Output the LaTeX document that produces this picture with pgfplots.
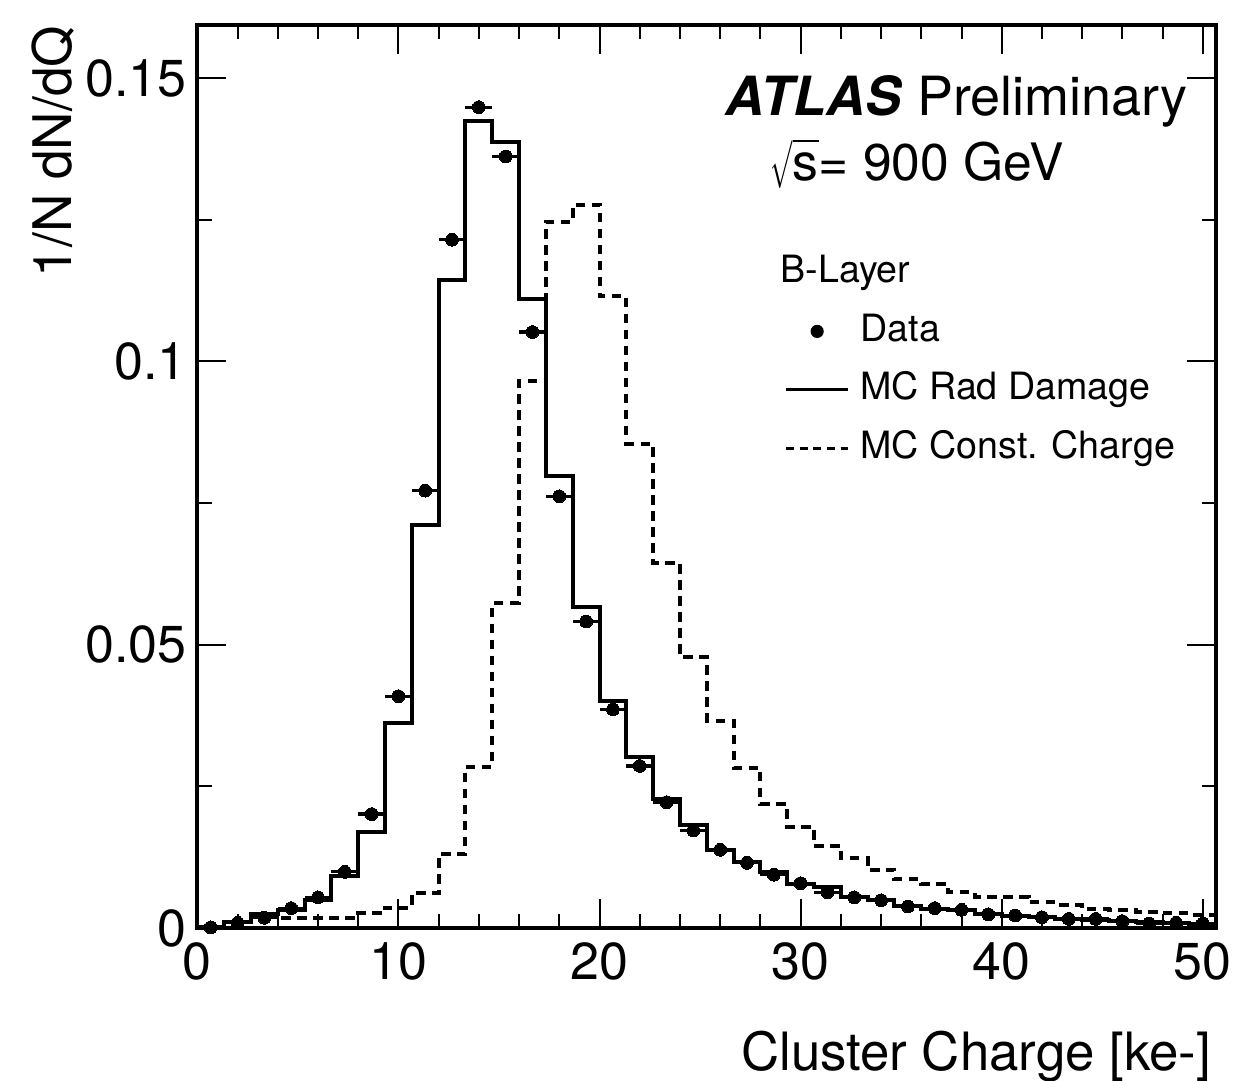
\documentclass[border=0pt]{standalone}
\usepackage{fontspec}
\setmainfont{TeX Gyre Heros}
\usepackage{pgfplots}
\pgfplotsset{compat=1.18}
\pgfplotsset{
  legline/.style={legend image code/.code={\draw[##1] (0pt,0pt) -- (15.5pt,0pt);}},
  legmark/.style={legend image code/.code={\draw[mark repeat=2, mark phase=2, ##1] plot coordinates {(0pt,0pt) (7.75pt,0pt) (15.5pt,0pt)};}},
}
\newsavebox\surdbox
\newsavebox\radbox
\newcommand{\rsqrt}[1]{%
  \sbox\radbox{#1}%
  \sbox\surdbox{$\sqrt{\vphantom{\usebox\radbox}}$}%
  \scalebox{0.55}[1]{\usebox\surdbox}%
  \rlap{\rule[\dimexpr\ht\surdbox-2\fontdimen8\textfont3\relax]{\wd\radbox}{\fontdimen8\textfont3}}%
  \usebox\radbox}
\begin{document}
\begin{tikzpicture}
\path[use as bounding box] (-49.33pt,-38.25pt) rectangle (259.43pt,232pt);
\begin{axis}[
  at={(0,0)}, anchor=south west,
  scale only axis, width=254.75pt, height=225.75pt,
  xmin=0, xmax=50.6667, ymin=0, ymax=0.1594,
  clip=false,
  axis line style={line width=1pt, black},
  tick align=inside, tick pos=both,
  xtick={0,10,20,30,40,50}, xticklabels={0,10,20,30,40,50}, minor x tick num=4,
  ytick={0,0.05,0.1,0.15}, yticklabels={0,0.05,0.1,0.15}, minor y tick num=1,
  major tick length=7.2pt, minor tick length=3.6pt,
  every tick/.style={black, line width=0.5pt},
  tick label style={font=\fontsize{13}{15}\selectfont, inner sep=0pt},
  xticklabel style={yshift=-3.5pt},
  yticklabel style={xshift=-2.5pt},
  xlabel={Cluster Charge [ke-]},
  xlabel style={at={(axis description cs:0.9958,-0.1573)}, anchor=base east, inner sep=0pt, font=\fontsize{13.2}{15}\selectfont},
  ylabel={1/N dN/dQ},
  ylabel style={at={(axis description cs:-0.123,1)}, anchor=base east, inner sep=0pt, font=\fontsize{13.3}{15}\selectfont},
  legend style={at={(axis description cs:0.5765,0.7453)}, anchor=north west, draw=none, fill=none, inner sep=0pt, outer sep=0pt,
    row sep=5.6pt, column sep=2.75pt, font=\fontsize{9.4}{11}\selectfont,
    nodes={inner sep=0pt, text height=7pt, text depth=2pt}},
  legend cell align=left,
]
% MC Const. Charge (dashed)
\addplot[const plot, black, line width=1pt, dash pattern=on 2.4pt off 1.6pt, forget plot] coordinates {
(0,0.0002)(1.3333,0.0010)(2.6667,0.0020)(4,0.0017)(5.3333,0.0017)(6.6667,0.0017)(8,0.0026)(9.3333,0.0036)(10.6667,0.0062)(12,0.0130)(13.3333,0.0285)(14.6667,0.0574)(16,0.0966)(17.3333,0.1247)(18.6667,0.1277)(20,0.1115)(21.3333,0.0855)(22.6667,0.0644)(24,0.0478)(25.3333,0.0366)(26.6667,0.0283)(28,0.0219)(29.3333,0.0178)(30.6667,0.0145)(32,0.0123)(33.3333,0.0102)(34.6667,0.0086)(36,0.0078)(37.3333,0.0063)(38.6667,0.0055)(40,0.0055)(41.3333,0.0045)(42.6667,0.0041)(44,0.0033)(45.3333,0.0032)(46.6667,0.0028)(48,0.0026)(49.3333,0.0023)(50.6667,0.0023)
};
% MC Rad Damage (solid)
\addplot[const plot, black, line width=1pt, forget plot] coordinates {
(0,0.0002)(1.3333,0.0011)(2.6667,0.0024)(4,0.0032)(5.3333,0.0050)(6.6667,0.0092)(8,0.0170)(9.3333,0.0361)(10.6667,0.0711)(12,0.1144)(13.3333,0.1424)(14.6667,0.1387)(16,0.1111)(17.3333,0.0797)(18.6667,0.0567)(20,0.0401)(21.3333,0.0301)(22.6667,0.0227)(24,0.0181)(25.3333,0.0138)(26.6667,0.0116)(28,0.0098)(29.3333,0.0078)(30.6667,0.0073)(32,0.0055)(33.3333,0.0049)(34.6667,0.0038)(36,0.0033)(37.3333,0.0032)(38.6667,0.0024)(40,0.0021)(41.3333,0.0019)(42.6667,0.0016)(44,0.0014)(45.3333,0.0012)(46.6667,0.0010)(48,0.0008)(49.3333,0.0007)(50.6667,0.0007)
};
% Data
\addplot[only marks, mark=*, black, mark size=1.6pt, mark options={fill=black, draw=black, line width=0pt}, forget plot,
  error bars/.cd, x dir=both, x explicit, error mark=none, error bar style={line width=0.8pt, black}] coordinates {
(0.6667,0.0001) +- (0.6667,0)
(2,0.0009) +- (0.6667,0)
(3.3333,0.0018) +- (0.6667,0)
(4.6667,0.0035) +- (0.6667,0)
(6,0.0054) +- (0.6667,0)
(7.3333,0.0099) +- (0.6667,0)
(8.6667,0.0201) +- (0.6667,0)
(10,0.0409) +- (0.6667,0)
(11.3333,0.0772) +- (0.6667,0)
(12.6667,0.1215) +- (0.6667,0)
(14,0.1449) +- (0.6667,0)
(15.3333,0.1362) +- (0.6667,0)
(16.6667,0.1052) +- (0.6667,0)
(18,0.0762) +- (0.6667,0)
(19.3333,0.0541) +- (0.6667,0)
(20.6667,0.0386) +- (0.6667,0)
(22,0.0286) +- (0.6667,0)
(23.3333,0.0222) +- (0.6667,0)
(24.6667,0.0172) +- (0.6667,0)
(26,0.0138) +- (0.6667,0)
(27.3333,0.0115) +- (0.6667,0)
(28.6667,0.0094) +- (0.6667,0)
(30,0.0079) +- (0.6667,0)
(31.3333,0.0063) +- (0.6667,0)
(32.6667,0.0054) +- (0.6667,0)
(34,0.0049) +- (0.6667,0)
(35.3333,0.0038) +- (0.6667,0)
(36.6667,0.0035) +- (0.6667,0)
(38,0.0032) +- (0.6667,0)
(39.3333,0.0024) +- (0.6667,0)
(40.6667,0.0022) +- (0.6667,0)
(42,0.0019) +- (0.6667,0)
(43.3333,0.0016) +- (0.6667,0)
(44.6667,0.0016) +- (0.6667,0)
(46,0.0012) +- (0.6667,0)
(47.3333,0.0008) +- (0.6667,0)
(48.6667,0.0009) +- (0.6667,0)
(50,0.0008) +- (0.6667,0)
};
\addlegendimage{empty legend}
\addlegendentry{\hspace{-20pt}B-Layer}
\addlegendimage{black, only marks, mark=*, mark size=1.45pt, legmark}
\addlegendentry{Data}
\addlegendimage{black, line width=0.7pt, legline}
\addlegendentry{MC Rad Damage}
\addlegendimage{black, line width=0.7pt, dash pattern=on 2pt off 1.4pt, legline}
\addlegendentry{MC Const. Charge}
\node[anchor=base west, inner sep=0pt, font=\fontsize{13.5}{15}\selectfont] at (axis description cs:0.518,0.9003) {\textbf{\textit{ATLAS}} Preliminary};
\node[anchor=base west, inner sep=0pt, font=\fontsize{12.9}{15}\selectfont] at (axis description cs:0.562,0.8283) {\rsqrt{s}= 900 GeV};
\end{axis}
\end{tikzpicture}
\end{document}
